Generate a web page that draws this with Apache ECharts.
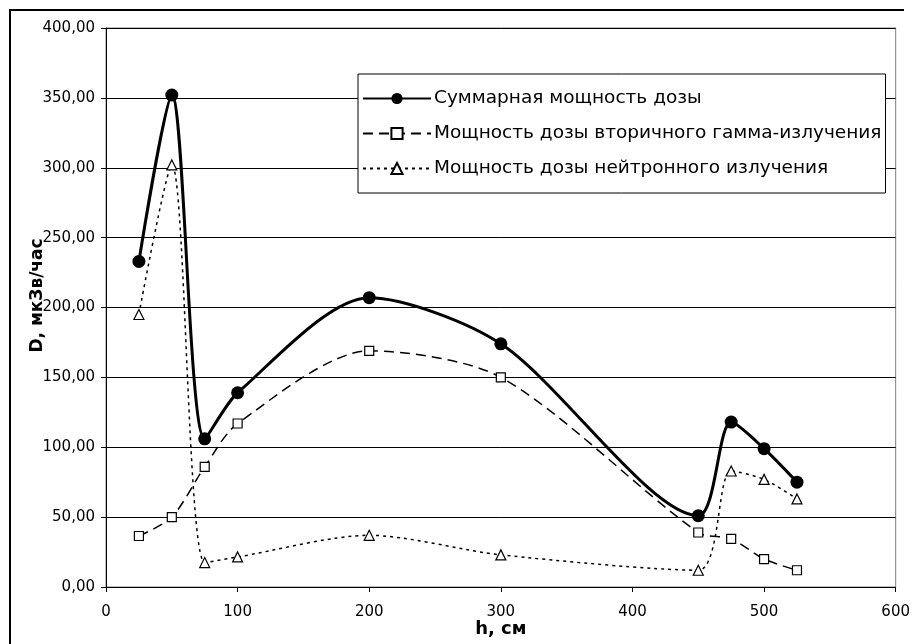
<!DOCTYPE html>
<html>
<head>
<meta charset="utf-8">
<script src="https://cdn.jsdelivr.net/npm/echarts@6/dist/echarts.min.js"></script>
<style>
html,body{margin:0;padding:0;background:#fff;overflow:hidden;}
#mainChart{width:913px;height:644px;}
</style>
</head>
<body>
<div id="mainChart"></div>
<script>
'use strict'
// h, cm
var heights = [25, 50, 75, 100, 200, 300, 450, 475, 500, 525];
var totalDose = [233, 352, 106, 139, 207, 174, 51, 118, 99, 75];
var gammaDose = [36.5, 50, 86, 117, 169, 150, 39, 34.5, 20, 12];
var neutronDose = [195, 302, 17.5, 21.5, 37, 23, 12, 83, 77, 63];
var seriesNames = [
    'Суммарная мощность дозы',
    'Мощность дозы вторичного гамма-излучения',
    'Мощность дозы нейтронного излучения'
];

function pairs(ys){
    return heights.map(function(h, i){ return [h, ys[i]]; });
}

var font = 'DejaVu Sans, Arial';
var myChart = echarts.init(document.getElementById('mainChart'));
myChart.setOption({
    animation: false,
    textStyle: {fontFamily: font, color: '#000'},
    graphic: [{
        type: 'polyline',
        shape: {points: [[10, 644], [10, 10], [904, 10]]},
        style: {fill: null, stroke: '#000', lineWidth: 2},
        silent: true
    }],
    grid: {left: 106, right: 14, top: 28, bottom: 57, show: true, borderColor: '#808080', borderWidth: 1},
    legend: {
        orient: 'vertical',
        left: 358,
        top: 74,
        backgroundColor: '#fff',
        borderColor: '#000',
        borderWidth: 1,
        padding: [15, 4, 15, 4],
        itemGap: 16,
        itemWidth: 68,
        itemHeight: 14,
        textStyle: {fontSize: 18.5, color: '#000', fontFamily: font, padding: [0, 0, 0, -2]},
        data: seriesNames
    },
    xAxis: {
        type: 'value',
        min: 0, max: 600, interval: 100,
        name: 'h, см',
        nameLocation: 'middle',
        nameGap: 33,
        nameMoveOverlap: false,
        nameTextStyle: {fontSize: 18, fontWeight: 'bold', color: '#000', fontFamily: font},
        axisLine: {lineStyle: {color: '#000', width: 1}},
        axisTick: {show: true, length: 5, lineStyle: {color: '#000'}},
        axisLabel: {fontSize: 15, color: '#000', margin: 18, fontFamily: font},
        splitLine: {show: false}
    },
    yAxis: {
        type: 'value',
        min: 0, max: 400, interval: 50,
        name: 'D, мкЗв/час',
        nameLocation: 'middle',
        nameGap: 60,
        nameMoveOverlap: false,
        nameTextStyle: {fontSize: 17, fontWeight: 'bold', color: '#000', fontFamily: font, padding: [0, 0, 0, 24]},
        axisLine: {show: true, lineStyle: {color: '#000', width: 1}},
        axisTick: {show: true, length: 5, lineStyle: {color: '#000'}},
        axisLabel: {
            fontSize: 15, color: '#000', margin: 11, fontFamily: font,
            formatter: function(v){ return v.toFixed(2).replace('.', ','); }
        },
        splitLine: {show: true, lineStyle: {color: '#000', width: 1}}
    },
    series: [
        {
            name: seriesNames[0],
            type: 'line',
            smooth: 0.28,
            data: pairs(totalDose),
            symbol: 'circle',
            symbolSize: 13,
            itemStyle: {color: '#000'},
            lineStyle: {color: '#000', width: 3},
            z: 5
        },
        {
            name: seriesNames[1],
            type: 'line',
            smooth: 0.28,
            data: pairs(gammaDose),
            symbol: 'rect',
            symbolSize: 9,
            itemStyle: {color: '#fff', borderColor: '#000', borderWidth: 1.2},
            lineStyle: {color: '#000', width: 1.5, type: [10, 6]},
            z: 4
        },
        {
            name: seriesNames[2],
            type: 'line',
            smooth: 0.28,
            data: pairs(neutronDose),
            symbol: 'triangle',
            symbolSize: 10,
            itemStyle: {color: '#fff', borderColor: '#000', borderWidth: 1.2},
            lineStyle: {color: '#000', width: 1.5, type: [3, 4]},
            z: 3
        }
    ]
});
</script>
</body>
</html>
